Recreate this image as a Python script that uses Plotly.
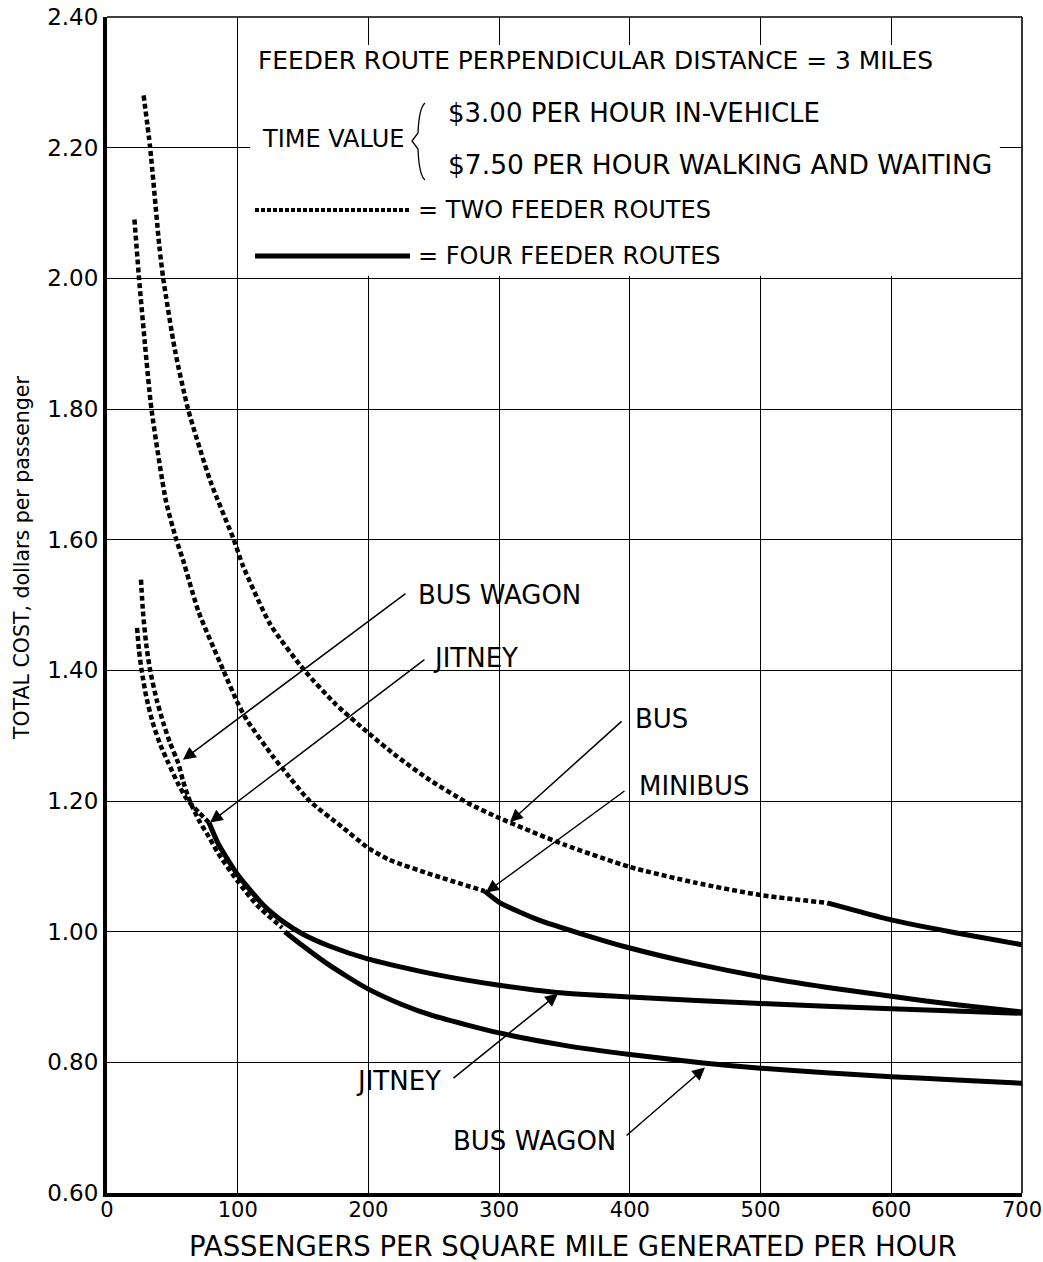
import plotly.graph_objects as go

# ---- data: total cost (dollars per passenger) vs passengers per sq mile per hour ----
# Each vehicle curve is dashed where two feeder routes apply, solid where four apply.
bus_two_x = [28, 33, 40, 43, 52, 62, 79, 97, 104, 125, 151, 175, 200, 222, 247, 276, 300, 350, 400, 450, 500, 551]
bus_two_y = [2.28, 2.20, 2.05, 2.00, 1.89, 1.80, 1.69, 1.60, 1.56, 1.47, 1.40, 1.348, 1.304, 1.268, 1.232, 1.197, 1.174, 1.133, 1.099, 1.075, 1.056, 1.044]
bus_four_x = [551, 575, 600, 650, 700]
bus_four_y = [1.044, 1.031, 1.018, 0.998, 0.980]

minibus_two_x = [21, 24.5, 29, 34, 45, 53, 58, 70, 89, 100, 107, 127, 135, 155, 180, 200, 216, 249, 289]
minibus_two_y = [2.09, 2.00, 1.90, 1.80, 1.66, 1.60, 1.57, 1.49, 1.40, 1.35, 1.324, 1.268, 1.248, 1.20, 1.16, 1.128, 1.11, 1.087, 1.062]
minibus_four_x = [289, 300, 330, 364, 400, 450, 500, 550, 600, 650, 700]
minibus_four_y = [1.062, 1.045, 1.018, 0.996, 0.975, 0.951, 0.931, 0.915, 0.901, 0.888, 0.877]

jitney_two_x = [23, 24.5, 26.5, 30, 35, 41, 47, 54, 61, 70, 78]
jitney_two_y = [1.465, 1.43, 1.40, 1.36, 1.32, 1.285, 1.258, 1.228, 1.203, 1.183, 1.167]
jitney_four_x = [78, 85, 100, 120, 135, 150, 170, 200, 250, 300, 344, 400, 500, 600, 700]
jitney_four_y = [1.167, 1.135, 1.087, 1.04, 1.015, 0.996, 0.978, 0.958, 0.935, 0.918, 0.907, 0.900, 0.890, 0.882, 0.875]

wagon_two_x = [26, 27.5, 30, 33, 38, 43, 48, 54.5, 58, 62, 66, 71, 78, 85, 100, 115, 134]
wagon_two_y = [1.539, 1.49, 1.44, 1.40, 1.355, 1.32, 1.29, 1.258, 1.232, 1.207, 1.188, 1.168, 1.145, 1.12, 1.077, 1.04, 1.006]
wagon_four_x = [136, 150, 167, 184, 200, 225, 250, 300, 350, 400, 456, 500, 550, 600, 650, 700]
wagon_four_y = [1.0, 0.978, 0.953, 0.931, 0.912, 0.889, 0.871, 0.845, 0.826, 0.812, 0.799, 0.791, 0.784, 0.778, 0.773, 0.768]

x_ticks = [0, 100, 200, 300, 400, 500, 600, 700]
y_ticks = [0.60, 0.80, 1.00, 1.20, 1.40, 1.60, 1.80, 2.00, 2.20, 2.40]
y_ticktext = ["0.60", "0.80", "1.00", "1.20", "1.40", "1.60", "1.80", "2.00", "2.20", "2.40"]

FONT = "DejaVu Sans"
INK = "black"

# plot-area geometry in pixels (used for the decorative key and brace)
W, H = 1043, 1262
L, R, T, B = 107, 21, 17, 69


def P(px, py):
    """Pixel position on the page -> paper coordinates."""
    return (px - L) / (W - L - R), (H - B - py) / (H - T - B)


fig = go.Figure()

dash_style = dict(color=INK, width=4.5, dash="5px,3px")
solid_style = dict(color=INK, width=5)

for xs, ys in [(bus_two_x, bus_two_y), (minibus_two_x, minibus_two_y),
               (jitney_two_x, jitney_two_y), (wagon_two_x, wagon_two_y)]:
    fig.add_trace(go.Scatter(x=xs, y=ys, mode="lines", line=dict(dash_style, shape="spline", smoothing=0.6),
                             showlegend=False, hoverinfo="skip"))
for xs, ys in [(bus_four_x, bus_four_y), (minibus_four_x, minibus_four_y),
               (jitney_four_x, jitney_four_y), (wagon_four_x, wagon_four_y)]:
    fig.add_trace(go.Scatter(x=xs, y=ys, mode="lines", line=dict(solid_style, shape="spline", smoothing=0.6),
                             showlegend=False, hoverinfo="skip"))

shapes = []
# white panel behind the key text (interrupts the grid)
shapes.append(dict(type="rect", xref="x", yref="y", x0=109.5, x1=683, y0=2.004, y1=2.357,
                   fillcolor="white", line=dict(width=0), layer="between"))
# thin frame on top and right
shapes.append(dict(type="line", xref="paper", yref="paper", x0=0, x1=1, y0=1, y1=1,
                   line=dict(color=INK, width=1.6), layer="above"))
shapes.append(dict(type="line", xref="paper", yref="paper", x0=1, x1=1, y0=0, y1=1,
                   line=dict(color=INK, width=1.6), layer="above"))
# key samples
x0, y0 = P(255, 210)
x1, _ = P(410, 210)
shapes.append(dict(type="line", xref="paper", yref="paper", x0=x0, x1=x1, y0=y0, y1=y0,
                   line=dict(color=INK, width=4, dash="4px,2px"), layer="above"))
x0, y0 = P(255, 256)
x1, _ = P(410, 256)
shapes.append(dict(type="line", xref="paper", yref="paper", x0=x0, x1=x1, y0=y0, y1=y0,
                   line=dict(color=INK, width=5), layer="above"))
# brace for the time values
pts = [(425, 103), (419, 108), (418, 133), (412, 141), (418, 149), (419, 175), (425, 180)]
pp = [P(*p) for p in pts]
path = (f"M {pp[0][0]},{pp[0][1]} Q {pp[1][0]},{pp[1][1]} {pp[2][0]},{pp[2][1]} "
        f"L {pp[3][0]},{pp[3][1]} L {pp[4][0]},{pp[4][1]} "
        f"Q {pp[5][0]},{pp[5][1]} {pp[6][0]},{pp[6][1]}")
shapes.append(dict(type="path", xref="paper", yref="paper", path=path,
                   line=dict(color=INK, width=1.3), layer="above"))

ann = []


def key_text(txt, px, py, size):
    xp, yp = P(px, py)
    ann.append(dict(text=txt, xref="paper", yref="paper", x=xp, y=yp, xanchor="left",
                    yanchor="middle", showarrow=False, font=dict(family=FONT, size=size, color=INK)))


key_text("FEEDER ROUTE PERPENDICULAR DISTANCE = 3 MILES", 256, 60, 24.9)
key_text("$3.00 PER HOUR IN-VEHICLE", 446, 113, 26)
key_text("TIME VALUE", 260, 139, 24)
key_text("$7.50 PER HOUR WALKING AND WAITING", 446, 164, 26.5)
key_text("= TWO FEEDER ROUTES", 416, 210, 24)
key_text("= FOUR FEEDER ROUTES", 416, 256, 24)

# pointer arrows: (head x, head y, tail x, tail y)
arrows = [
    (58.1, 1.263, 229.5, 1.519),   # bus wagon (upper)
    (78.8, 1.167, 244.0, 1.418),   # jitney (upper)
    (308.3, 1.168, 394.8, 1.324),  # bus
    (289.9, 1.060, 397.0, 1.217),  # minibus
    (345.0, 0.905, 263.9, 0.774),  # jitney (lower)
    (457.5, 0.792, 396.3, 0.686),  # bus wagon (lower)
]
for hx, hy, tx, ty in arrows:
    ann.append(dict(x=hx, y=hy, ax=tx, ay=ty, xref="x", yref="y", axref="x", ayref="y",
                    text="", showarrow=True, arrowhead=2, arrowsize=1.7, arrowwidth=1.5,
                    arrowcolor=INK, standoff=0, startstandoff=0))

label_font = dict(family=FONT, size=26, color=INK)
labels = [
    ("BUS WAGON", 236.4, 1.516, "left"),
    ("JITNEY", 247.9, 1.419, "left"),
    ("BUS", 402.4, 1.326, "left"),
    ("MINIBUS", 405.5, 1.223, "left"),
    ("JITNEY", 257.0, 0.771, "right"),
    ("BUS WAGON", 391.0, 0.680, "right"),
]
for txt, lx, ly, anc in labels:
    ann.append(dict(text=txt, x=lx, y=ly, xref="x", yref="y", xanchor=anc, yanchor="middle",
                    showarrow=False, font=label_font))

# axis titles
xp, yp = P(573, 1246)
ann.append(dict(text="PASSENGERS PER SQUARE MILE GENERATED PER HOUR", xref="paper", yref="paper",
                x=xp, y=yp, xanchor="center", yanchor="middle", showarrow=False,
                font=dict(family=FONT, size=27.5, color=INK)))
xp, yp = P(22, 558)
ann.append(dict(text="TOTAL COST, dollars per passenger", xref="paper", yref="paper",
                x=xp, y=yp, xanchor="center", yanchor="middle", showarrow=False, textangle=-90,
                font=dict(family=FONT, size=20.5, color=INK)))

fig.update_layout(
    width=W, height=H,
    margin=dict(l=L, r=R, t=T, b=B, autoexpand=False),
    paper_bgcolor="white", plot_bgcolor="white",
    shapes=shapes, annotations=ann,
    showlegend=False,
    font=dict(family=FONT, color=INK),
)
fig.update_xaxes(range=[0, 700], tickvals=x_ticks, ticks="", showgrid=True, gridcolor=INK, gridwidth=1,
                 showline=True, linecolor=INK, linewidth=4, zeroline=False, automargin=False,
                 ticklabeloverflow="allow",
                 tickfont=dict(family=FONT, size=21, color=INK), ticklabelstandoff=-5)
fig.update_yaxes(range=[0.6, 2.4], tickvals=y_ticks, ticktext=y_ticktext, ticks="", showgrid=True,
                 gridcolor=INK, gridwidth=1, showline=True, linecolor=INK, linewidth=4, zeroline=False,
                 automargin=False, ticklabeloverflow="allow",
                 tickfont=dict(family=FONT, size=23, color=INK), ticklabelstandoff=0)

fig.write_html("out.html")
